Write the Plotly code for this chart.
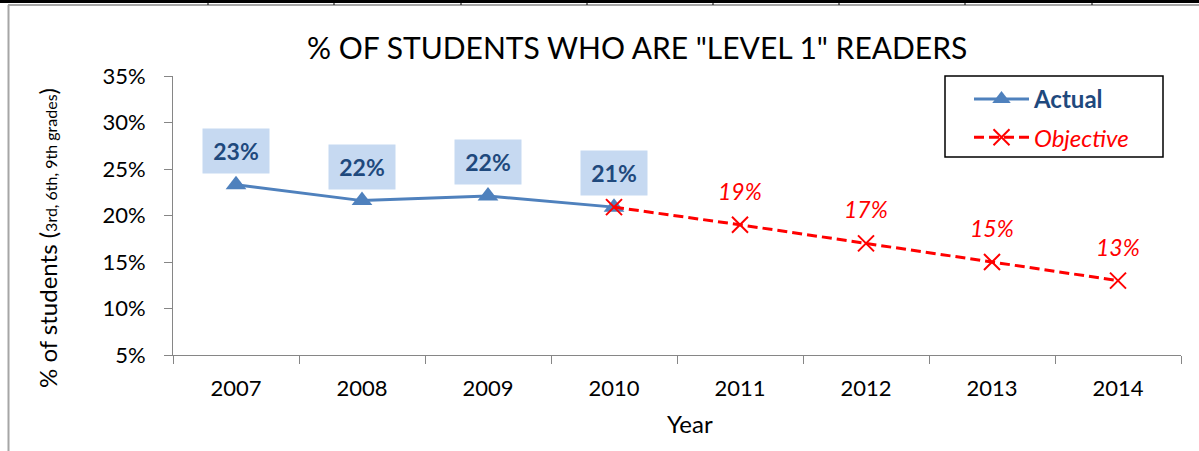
import plotly.graph_objects as go

# ---- data ----
years = ["2007", "2008", "2009", "2010", "2011", "2012", "2013", "2014"]
actual_years = ["2007", "2008", "2009", "2010"]
actual_vals = [0.233, 0.216, 0.221, 0.209]
objective_years = ["2010", "2011", "2012", "2013", "2014"]
objective_vals = [0.209, 0.19, 0.17, 0.15, 0.13]
y_ticks = [0.05, 0.10, 0.15, 0.20, 0.25, 0.30, 0.35]

W, H = 1199, 451
L, R, T, B = 173, 18, 76, 96
PW, PH = W - L - R, H - T - B

FONT = "Lato"
BLUE = "#4F81BD"
DARK_BLUE = "#1F497D"
RED = "#FF0000"
AXIS_GREY = "#868686"


def px(x):
    return (x - L) / PW


def py(y):
    return (H - B - y) / PH


fig = go.Figure()

fig.add_trace(go.Scatter(
    x=actual_years, y=actual_vals, mode="lines+markers",
    name=f"<b><span style='color:{DARK_BLUE}'>Actual</span></b>",
    legendgroup="actual",
    line=dict(color=BLUE, width=3),
    marker=dict(symbol="triangle-up", size=18, color=BLUE),
))
fig.add_trace(go.Scatter(
    x=objective_years, y=objective_vals, mode="lines+markers",
    name=f"<i><span style='color:{RED}'>Objective</span></i>",
    legendgroup="objective",
    line=dict(color=RED, width=3, dash="10px,5px"),
    marker=dict(symbol="x-thin-open", size=16, color=RED, line=dict(color=RED, width=2)),
))

annotations = []
# value labels for the actual series (boxed); category axis positions by index
for yr, v in zip(actual_years, actual_vals):
    annotations.append(dict(
        x=years.index(yr), y=v, xref="x", yref="y", showarrow=False, yshift=34,
        xanchor="center", yanchor="middle",
        text=f"<b>{round(v * 100)}%</b>", width=64, height=42,
        bgcolor="#C6D9F1", font=dict(family=FONT, size=23, color=DARK_BLUE),
    ))
# value labels for the objective series (skip the shared 2010 point)
for yr, v in zip(objective_years[1:], objective_vals[1:]):
    annotations.append(dict(
        x=years.index(yr), y=v, xref="x", yref="y", showarrow=False, yshift=34,
        xanchor="center", yanchor="middle",
        text=f"<i>{round(v * 100)}%</i>",
        font=dict(family=FONT, size=23, color=RED),
    ))

# chart title
annotations.append(dict(
    x=px(637), y=py(47), xref="paper", yref="paper", showarrow=False,
    xanchor="center", yanchor="middle",
    text='% OF STUDENTS WHO ARE "LEVEL 1" READERS',
    font=dict(family=FONT, size=30, color="black"),
))
# y-axis title
annotations.append(dict(
    x=px(48), y=py(238), xref="paper", yref="paper", showarrow=False,
    xanchor="center", yanchor="middle", textangle=-90,
    text="% of students (<span style='font-size:16px'>3rd, 6th, 9th grades</span>)",
    font=dict(family=FONT, size=24, color="black"),
))
# x-axis title
annotations.append(dict(
    x=px(690), y=py(423), xref="paper", yref="paper", showarrow=False,
    xanchor="center", yanchor="middle",
    text="Year", font=dict(family=FONT, size=24, color="black"),
))

# sheet frame around the chart, plus the legend box
shapes = [
    dict(type="line", xref="paper", yref="paper", x0=px(0), x1=px(W), y0=py(1.5), y1=py(1.5),
         line=dict(color="black", width=3)),
    dict(type="line", xref="paper", yref="paper", x0=px(8), x1=px(W), y0=py(5), y1=py(5),
         line=dict(color="#A6A6A6", width=2)),
    dict(type="line", xref="paper", yref="paper", x0=px(8.5), x1=px(8.5), y0=py(5), y1=py(H),
         line=dict(color="#A6A6A6", width=2)),
    dict(type="rect", xref="paper", yref="paper", x0=px(945), x1=px(1163), y0=py(76), y1=py(157),
         line=dict(color="black", width=1.5), fillcolor="rgba(0,0,0,0)"),
]
for cx in [208, 334, 461, 587, 713, 839, 965, 1092]:
    shapes.append(dict(type="line", xref="paper", yref="paper", x0=px(cx), x1=px(cx),
                       y0=py(0), y1=py(5), line=dict(color="black", width=1)))

fig.update_layout(
    width=W, height=H,
    margin=dict(l=L, r=R, t=T, b=B),
    paper_bgcolor="white", plot_bgcolor="white",
    font=dict(family=FONT, size=22, color="black"),
    showlegend=True,
    legend=dict(
        x=px(969), y=py(77), xanchor="left", yanchor="top",
        borderwidth=0, bgcolor="rgba(0,0,0,0)",
        font=dict(family=FONT, size=24),
        itemwidth=55,
        tracegroupgap=4, traceorder="grouped",
    ),
    annotations=annotations,
    shapes=shapes,
)
fig.update_xaxes(
    type="category", categoryorder="array", categoryarray=years,
    range=[-0.5, len(years) - 0.5],
    showline=True, linecolor=AXIS_GREY, linewidth=1,
    ticks="outside", tickson="boundaries", ticklen=8, tickcolor=AXIS_GREY,
    ticklabelstandoff=14,
    showgrid=False, zeroline=False,
    tickfont=dict(family=FONT, size=22, color="black"),
)
fig.update_yaxes(
    range=[0.05, 0.35], tickvals=y_ticks, tickformat=".0%",
    showline=True, linecolor=AXIS_GREY, linewidth=1,
    ticks="outside", ticklen=8, tickcolor=AXIS_GREY,
    ticklabelstandoff=14,
    showgrid=False, zeroline=False,
    tickfont=dict(family=FONT, size=22, color="black"),
)

fig.write_html("out.html")
